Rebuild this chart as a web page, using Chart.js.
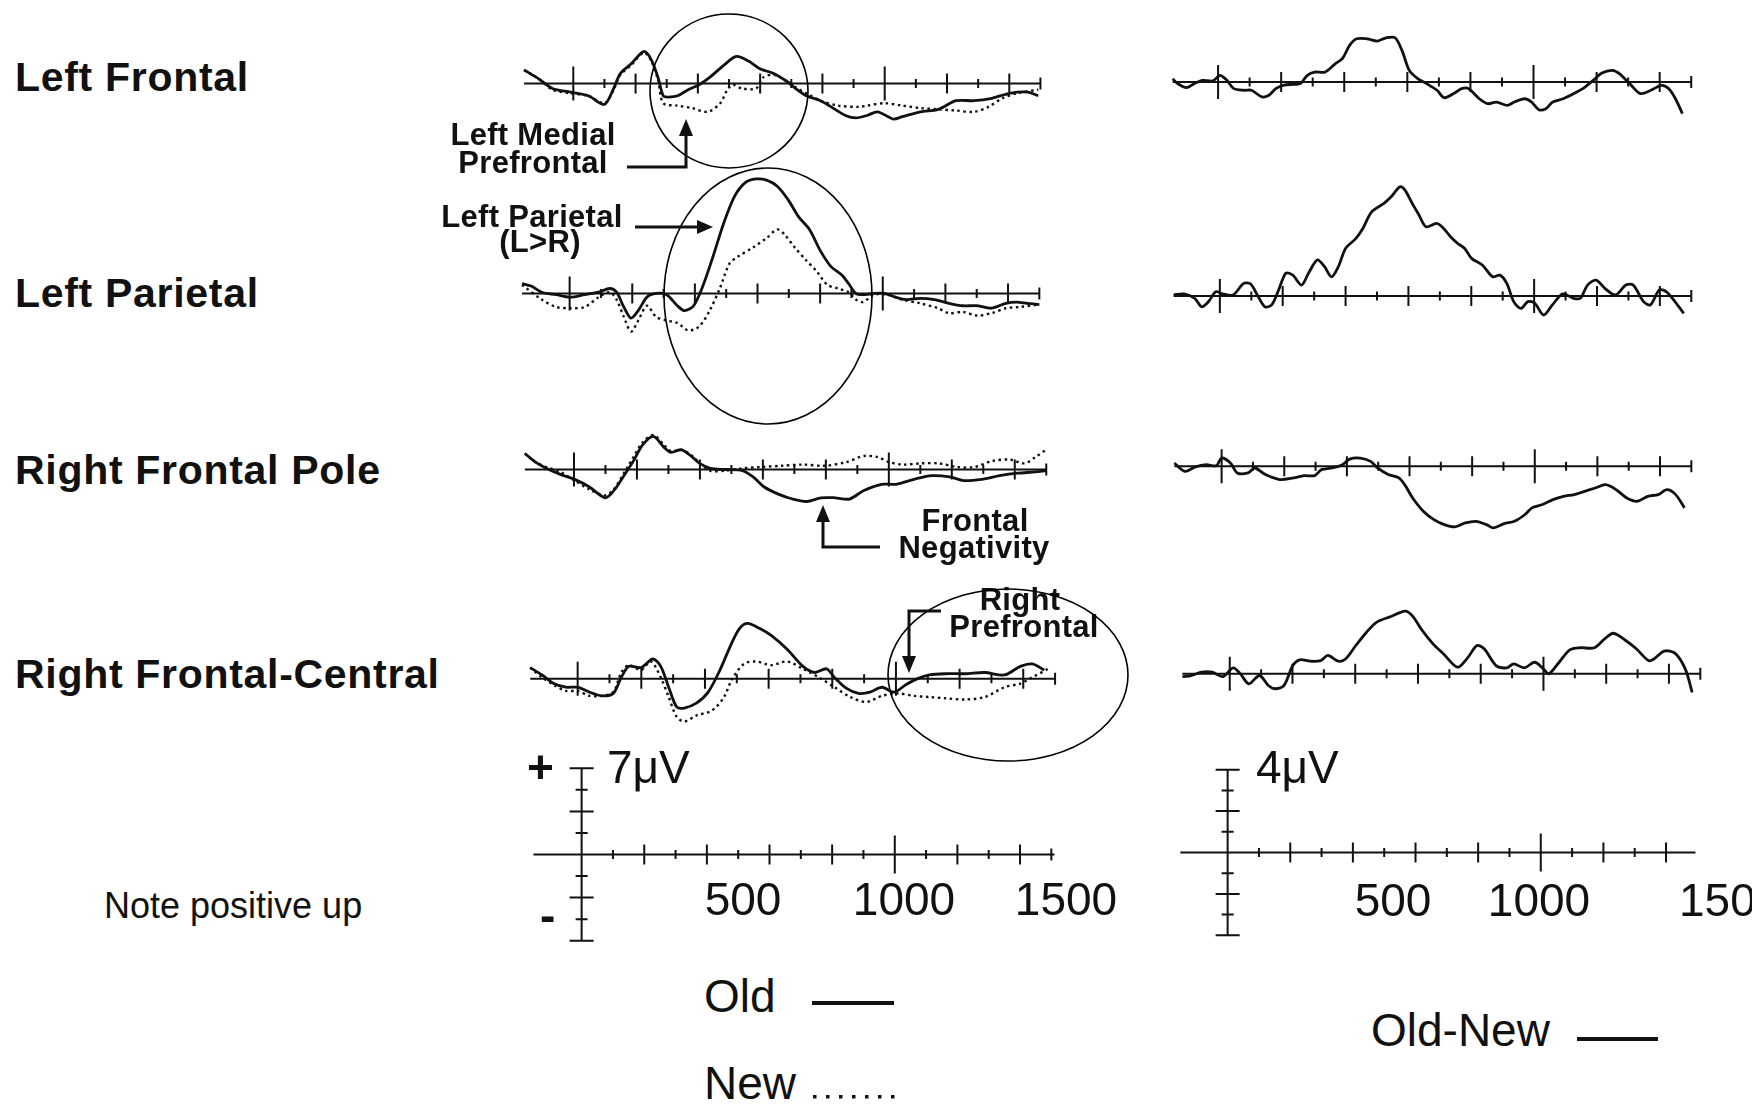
<!DOCTYPE html>
<html lang="en">
<head>
<meta charset="utf-8">
<title>ERP old/new effects</title>
<script src="https://cdn.jsdelivr.net/npm/chart.js@4.4.1/dist/chart.umd.min.js"></script>
<style>
  html, body { margin: 0; padding: 0; background: #fff; }
  #fig { position: relative; width: 1752px; height: 1105px; overflow: hidden; background: #fff;
         font-family: "Liberation Sans", Arial, Helvetica, sans-serif; color: #111; }
  #fig canvas { position: absolute; }
  #fig svg { position: absolute; left: 0; top: 0; }
  .txt { position: absolute; white-space: nowrap; line-height: 1; }
</style>
</head>
<body>
<div id="fig"></div>
<script>
// --- time axis (ms) and scale bar ticks (µV) ---
const msTicks = [0, 100, 200, 300, 400, 500, 600, 700, 800, 900, 1000, 1100, 1200, 1300, 1400, 1500];
const oldNewScaleTicks = [-7, -5.25, -3.5, -1.75, 0, 1.75, 3.5, 5.25, 7];
const diffScaleTicks = [-4, -3, -2, -1, 0, 1, 2, 3, 4];

// --- Left Frontal ---
const lfOldT = [-158,-112,-67,-9,48,100,128,151,186,226,249,272,289,306,335,369,404,438,484,524,564,599,645,690,713,748,794,828,874,908,943,977,1011,1029,1057,1115,1172,1229,1287,1344,1401,1459,1493];
const lfOldV = [1.1,0.4,-0.4,-0.7,-1.0,-1.7,-0.5,0.8,1.6,2.6,2.0,0.5,-1.0,-1.1,-1.0,-0.5,-0.1,0.5,1.5,2.2,1.8,1.2,0.8,0.1,-0.4,-1.0,-1.4,-1.9,-2.6,-2.8,-2.6,-2.3,-2.7,-2.9,-2.7,-2.3,-2.1,-1.4,-1.4,-1.2,-0.8,-0.7,-1.0];
const lfNewT = [-158,-112,-67,-9,48,100,128,151,186,226,249,272,289,335,381,432,472,495,513,541,587,610,645,690,713,748,794,851,920,943,1000,1057,1115,1172,1229,1287,1333,1378,1424,1493];
const lfNewV = [1.1,0.4,-0.5,-0.8,-1.0,-1.6,-0.6,0.7,1.5,2.5,1.9,0.3,-1.6,-1.8,-2.0,-2.3,-1.6,-0.5,-0.1,-0.4,-0.4,0.5,0.7,0.1,-0.3,-0.8,-1.4,-1.8,-1.9,-1.8,-1.6,-1.8,-2.0,-2.1,-2.2,-2.3,-1.9,-1.2,-0.8,-0.5];
const lfDiffT = [-144,-128,-100,-72,-50,-17,6,28,50,83,106,139,161,183,206,239,261,283,306,339,372,394,417,439,472,505,533,561,583,606,633,661,694,717,750,772,794,828,855,883,917,939,972,994,1017,1039,1061,1094,1128,1161,1189,1217,1250,1272,1305,1339,1372,1406,1428,1450,1472];
const lfDiffV = [0.16,-0.08,-0.27,-0.05,0.08,0.05,0.32,0.08,-0.32,-0.40,-0.40,-0.72,-0.64,-0.32,-0.16,-0.11,-0.08,0.32,0.48,0.48,0.89,1.13,1.77,2.09,2.09,1.98,2.14,2.14,1.53,0.56,0.16,-0.08,-0.40,-0.76,-0.53,-0.32,-0.32,-0.81,-1.05,-0.97,-1.13,-0.97,-0.81,-0.97,-1.34,-1.29,-0.97,-0.81,-0.56,-0.27,0.08,0.43,0.56,0.40,-0.08,-0.56,-0.40,-0.16,-0.32,-0.81,-1.53];

// --- Left Parietal ---
const lpOldT = [-152,-123,-89,-43,2,48,93,128,150,173,196,219,247,276,310,344,367,396,424,458,492,527,561,595,629,663,698,732,766,800,834,869,891,914,937,971,1005,1040,1074,1119,1165,1211,1256,1302,1347,1393,1427,1461,1500];
const lpOldV = [0.8,0.6,0.1,-0.1,-0.3,-0.1,0.1,0.4,0.1,-1.1,-2.0,-1.4,-0.3,0,-0.1,-1.0,-1.4,-1.0,0.5,3.0,5.7,7.9,9.0,9.3,9.2,8.7,7.6,6.2,5.2,3.5,2.2,1.5,0.8,0,-0.1,0,0,-0.3,-0.5,-0.4,-0.5,-0.8,-1.0,-1.0,-1.2,-0.8,-0.7,-0.8,-0.9];
const lpNewT = [-152,-89,-43,2,48,93,128,150,173,196,219,247,276,310,344,379,413,447,481,510,538,584,629,663,686,720,755,789,823,857,891,914,937,971,1017,1062,1119,1176,1211,1256,1302,1347,1393,1438,1500];
const lpNewV = [0.7,-0.5,-1.1,-1.2,-1.1,-0.3,0.1,-0.5,-1.9,-3.1,-2.2,-1.0,-1.9,-2.2,-2.4,-3.0,-2.7,-1.4,0.5,2.4,3.0,3.7,4.5,5.2,4.8,3.7,2.7,1.8,0.7,0.4,0.1,-0.5,-0.7,-0.1,-0.1,-0.5,-0.8,-1.2,-1.6,-1.5,-1.8,-1.6,-1.2,-1.1,-0.9];
const lpDiffT = [-147,-114,-80,-58,-36,-13,9,42,76,98,121,143,165,187,210,232,260,282,310,333,355,377,400,433,455,483,522,545,573,589,612,634,656,690,712,734,757,779,801,835,868,891,913,935,958,980,1002,1030,1058,1091,1125,1147,1170,1197,1225,1259,1292,1315,1348,1370,1398,1420,1448,1476];
const lpDiffV = [0.05,0.10,-0.11,-0.52,-0.27,0.21,0.10,0.05,0.61,0.58,0,-0.52,-0.43,0.29,1.10,1.01,0.53,1.10,1.74,1.42,0.93,1.42,2.30,2.79,3.27,4.07,4.48,4.80,5.28,5.12,4.48,3.91,3.35,3.51,3.27,2.87,2.54,2.30,1.82,1.50,0.93,1.01,0.61,-0.27,-0.60,-0.27,-0.35,-0.92,-0.43,0.10,-0.11,-0.11,0.53,0.77,0.37,0.05,0.53,0.53,-0.27,-0.43,0.29,0.21,-0.27,-0.84];

// --- Right Frontal Pole ---
const fpOldT = [-156,-122,-88,-43,2,48,99,127,161,189,218,252,286,308,342,376,399,433,479,535,569,603,649,694,739,785,830,875,921,977,1023,1080,1136,1193,1238,1295,1352,1409,1465,1499];
const fpOldV = [1.3,0.6,0.1,-0.4,-0.8,-1.4,-2.3,-1.7,-0.4,0.7,2.0,2.7,1.8,1.4,1.6,1.0,0.5,0.1,0,-0.1,-0.6,-1.4,-2.0,-2.4,-2.6,-2.3,-2.3,-2.4,-1.7,-1.2,-1.2,-0.8,-0.5,-0.6,-0.9,-0.8,-0.5,-0.3,-0.2,-0.1];
const fpNewT = [-156,-122,-88,-43,2,48,99,127,161,189,218,252,286,308,342,376,399,433,479,535,592,660,728,796,864,921,966,1000,1046,1102,1159,1216,1272,1329,1386,1431,1465,1499];
const fpNewV = [1.3,0.6,0.2,-0.2,-0.9,-1.6,-2.1,-1.6,-0.2,1.0,2.2,2.8,2.0,1.5,1.6,1.1,0.5,-0.1,-0.1,0.1,0.2,0.3,0.4,0.3,0.6,1.1,1.0,0.6,0.4,0.5,0.5,0.2,0.2,0.7,0.8,0.5,1.0,1.6];
const fpDiffT = [-151,-118,-84,-50,-17,0,28,50,84,106,140,185,230,263,297,319,353,386,409,442,476,498,532,566,588,610,644,678,711,745,778,812,846,868,902,935,969,991,1025,1058,1092,1126,1159,1193,1226,1260,1294,1327,1361,1394,1422,1450,1478];
const fpDiffV = [0.16,-0.24,-0.03,0.08,0.03,0.40,0.16,-0.32,-0.32,-0.08,-0.40,-0.64,-0.56,-0.45,-0.45,-0.16,-0.08,0.08,0.35,0.40,0.24,-0.08,-0.40,-0.56,-0.97,-1.53,-2.17,-2.58,-2.82,-2.93,-2.74,-2.66,-2.82,-2.98,-2.77,-2.66,-2.33,-2.01,-1.85,-1.61,-1.45,-1.37,-1.21,-1.05,-0.89,-1.13,-1.53,-1.69,-1.45,-1.37,-1.13,-1.37,-2.01];

// --- Right Frontal-Central ---
const fcOldT = [-149,-112,-75,-37,0,37,75,112,137,161,199,236,261,286,311,335,373,410,447,484,509,534,571,609,658,708,745,782,807,845,882,919,956,994,1031,1068,1105,1155,1217,1279,1341,1391,1428,1466];
const fcOldV = [0.9,0.3,-0.4,-0.7,-0.7,-1.1,-1.4,-1.2,0.1,1.0,0.9,1.6,1.0,-0.7,-2.3,-2.4,-2.0,-1.1,0.7,2.9,4.1,4.5,4.1,3.5,2.4,1.0,0.5,0.8,0.1,-0.8,-1.2,-1.1,-0.7,-1.1,-0.5,0,0.3,0.4,0.4,0.5,0.3,1.0,1.2,0.7];
const fcNewT = [-149,-112,-75,-37,0,37,75,112,137,161,199,230,261,286,311,335,373,422,460,484,522,559,609,658,708,758,807,857,907,956,1006,1056,1105,1155,1217,1279,1341,1391,1428,1478];
const fcNewV = [0.9,0.1,-0.5,-1.0,-1.0,-1.4,-1.4,-1.1,0.5,1.1,0.7,1.4,0.1,-1.5,-3.1,-3.5,-3.0,-2.6,-1.5,-0.1,1.2,1.4,1.1,1.4,0.8,0.1,-0.7,-1.5,-1.9,-1.4,-1.2,-1.4,-1.5,-1.6,-1.7,-1.5,-0.7,-0.4,0.1,0.8];
const fcDiffT = [-151,-123,-89,-56,-22,11,34,61,95,123,145,173,201,223,257,290,313,346,369,402,436,469,514,559,581,614,648,681,726,760,788,811,849,883,905,939,972,1000,1017,1050,1084,1117,1162,1195,1223,1262,1296,1335,1352,1385,1419,1452,1474];
const fcDiffV = [-0.13,-0.08,0.08,0.08,-0.13,0.29,0,-0.48,-0.08,-0.56,-0.72,-0.56,0.40,0.68,0.61,0.64,0.89,0.61,0.72,1.37,2.01,2.50,2.77,3.03,2.82,2.09,1.45,0.97,0.32,0.81,1.37,1.21,0.40,0.29,0.48,0.29,0.56,0.24,0,0.56,1.16,1.26,1.26,1.69,1.96,1.61,1.21,0.64,0.72,1.10,1.00,0.24,-0.89];

// --- layout ---
const fig = document.getElementById('fig');
const X_MIN = -200, X_MAX = 1550;   // every panel canvas spans this time window
const UV_LEFT = 12.29;              // px per µV, Old/New column (7 µV bar)
const UV_RIGHT = 20.7;              // px per µV, Old-New column (4 µV bar)

// x0 = pixel of 0 ms, k = px per 100 ms, base = pixel of 0 µV
const panels = [
  { lines: [[lfOldT, lfOldV, false], [lfNewT, lfNewV, true]], x0: 573.6, k: 31.14, base: 83.3, px: UV_LEFT, from: -158, yMin: -5, yMax: 5 },
  { lines: [[lpOldT, lpOldV, false], [lpNewT, lpNewV, true]], x0: 570.0, k: 31.32, base: 293.3, px: UV_LEFT, from: -152, yMin: -5, yMax: 11 },
  { lines: [[fpOldT, fpOldV, false], [fpNewT, fpNewV, true]], x0: 573.6, k: 31.5, base: 469.0, px: UV_LEFT, from: -156, yMin: -5, yMax: 5 },
  { lines: [[fcOldT, fcOldV, false], [fcNewT, fcNewV, true]], x0: 577.2, k: 31.83, base: 678.3, px: UV_LEFT, from: -149, yMin: -5, yMax: 6 },
  { lines: [[lfDiffT, lfDiffV, false]], x0: 1217.9, k: 31.56, base: 81.7, px: UV_RIGHT, from: -144, yMin: -3, yMax: 3 },
  { lines: [[lpDiffT, lpDiffV, false]], x0: 1220.3, k: 31.43, base: 296.0, px: UV_RIGHT, from: -147, yMin: -3, yMax: 6 },
  { lines: [[fpDiffT, fpDiffV, false]], x0: 1221.4, k: 31.32, base: 466.7, px: UV_RIGHT, from: -151, yMin: -4, yMax: 2 },
  { lines: [[fcDiffT, fcDiffV, false]], x0: 1230.2, k: 31.38, base: 673.3, px: UV_RIGHT, from: -151, yMin: -3, yMax: 4 },
  // calibration crosses
  { lines: [], x0: 581.6, k: 31.3, base: 854.3, px: UV_LEFT, from: -154, to: 1510, yMin: -8, yMax: 8, vTicks: oldNewScaleTicks, big: 19 },
  { lines: [], x0: 1228.0, k: 31.33, base: 852.7, px: UV_RIGHT, from: -151, to: 1494, yMin: -5, yMax: 5, vTicks: diffScaleTicks, big: 19 }
];

// baseline with 100 ms ticks (plus the vertical µV bar on the calibration crosses)
function axisPlugin(p) {
  return {
    id: 'erpAxis',
    beforeDatasetsDraw(chart) {
      const { ctx } = chart;
      const xs = chart.scales.x, ys = chart.scales.y;
      const y0 = ys.getPixelForValue(0);
      const to = p.to ?? 1500;
      ctx.save();
      ctx.strokeStyle = '#111';
      ctx.lineWidth = 2;
      ctx.beginPath();
      ctx.moveTo(xs.getPixelForValue(p.from), y0);
      ctx.lineTo(xs.getPixelForValue(to), y0);
      for (const t of msTicks) {
        if (t > to + 1) continue;
        if (p.vTicks && t === 0) continue;
        const px = xs.getPixelForValue(t);
        const len = t % 1000 === 0 ? (p.big ?? 17) : t === 1500 ? 6 : t % 200 === 0 ? 10 : 4.5;
        ctx.moveTo(px, y0 - len);
        ctx.lineTo(px, y0 + len);
      }
      if (p.vTicks) {
        const top = Math.max(...p.vTicks), bot = Math.min(...p.vTicks);
        const xp = xs.getPixelForValue(0);
        ctx.moveTo(xp, ys.getPixelForValue(top));
        ctx.lineTo(xp, ys.getPixelForValue(bot));
        for (const v of p.vTicks) {
          if (v === 0) continue;
          const half = (Math.abs(v) === top || Math.abs(v) === top / 2) ? 12 : 6;
          const py = ys.getPixelForValue(v);
          ctx.moveTo(xp - half, py);
          ctx.lineTo(xp + half, py);
        }
      }
      ctx.stroke();
      ctx.restore();
    }
  };
}

function drawPanel(p) {
  const cv = document.createElement('canvas');
  const w = Math.round((X_MAX - X_MIN) * p.k / 100);
  const h = Math.round((p.yMax - p.yMin) * p.px);
  cv.width = w;
  cv.height = h;
  cv.style.width = w + 'px';
  cv.style.height = h + 'px';
  cv.style.left = Math.round(p.x0 + X_MIN * p.k / 100) + 'px';
  cv.style.top = Math.round(p.base - p.yMax * p.px) + 'px';
  fig.appendChild(cv);

  new Chart(cv, {
    type: 'line',
    data: {
      datasets: p.lines.map(([t, v, dotted]) => ({
        data: t.map((ms, i) => ({ x: ms, y: v[i] })),
        borderColor: '#111',
        borderWidth: dotted ? 2.4 : 2.8,
        borderDash: dotted ? [2.5, 3.5] : [],
        pointRadius: 0,
        tension: 0.3,
        fill: false
      }))
    },
    options: {
      responsive: false,
      animation: false,
      devicePixelRatio: 1,
      events: [],
      layout: { padding: 0 },
      scales: {
        x: { type: 'linear', min: X_MIN, max: X_MAX, display: false },
        y: { type: 'linear', min: p.yMin, max: p.yMax, display: false }
      },
      plugins: { legend: { display: false }, tooltip: { enabled: false } }
    },
    plugins: [axisPlugin(p)]
  });
}

panels.forEach(drawPanel);

// --- text (y is the baseline) ---
const texts = [
  { text: 'Left Frontal', x: 15, y: 92, size: 41, bold: true, ls: 0.7 },
  { text: 'Left Parietal', x: 15, y: 308, size: 41, bold: true, ls: 0.7 },
  { text: 'Right Frontal Pole', x: 15, y: 485, size: 41, bold: true, ls: 0.7 },
  { text: 'Right Frontal-Central', x: 15, y: 689, size: 41, bold: true, ls: 0.7 },
  { text: 'Note positive up', x: 104, y: 918, size: 36 },
  { text: 'Left Medial', x: 533, y: 145, size: 31, bold: true, ls: 0.3, center: true },
  { text: 'Prefrontal', x: 533, y: 173, size: 31, bold: true, ls: 0.3, center: true },
  { text: 'Left Parietal', x: 532, y: 227, size: 31, bold: true, ls: 0.3, center: true },
  { text: '(L>R)', x: 540, y: 252, size: 31, bold: true, ls: 0.3, center: true },
  { text: 'Frontal', x: 975, y: 531, size: 31, bold: true, ls: 0.3, center: true },
  { text: 'Negativity', x: 974, y: 558, size: 31, bold: true, ls: 0.3, center: true },
  { text: 'Right', x: 1020, y: 610, size: 31, bold: true, ls: 0.3, center: true },
  { text: 'Prefrontal', x: 1024, y: 637, size: 31, bold: true, ls: 0.3, center: true },
  { text: '+', x: 527, y: 783, size: 46, bold: true },
  { text: '7μV', x: 607, y: 783, size: 46 },
  { text: '-', x: 540, y: 931, size: 46, bold: true },
  { text: '500', x: 743, y: 915, size: 46, center: true },
  { text: '1000', x: 904, y: 915, size: 46, center: true },
  { text: '1500', x: 1066, y: 915, size: 46, center: true },
  { text: '4μV', x: 1256, y: 783, size: 46 },
  { text: '500', x: 1393, y: 916, size: 46, center: true },
  { text: '1000', x: 1539, y: 916, size: 46, center: true },
  { text: '1500', x: 1679, y: 916, size: 46 },
  { text: 'Old', x: 704, y: 1012, size: 46 },
  { text: 'New', x: 704, y: 1099, size: 46 },
  { text: 'Old-New', x: 1371, y: 1046, size: 46 }
];

texts.forEach(t => {
  const d = document.createElement('div');
  d.className = 'txt';
  d.textContent = t.text;
  d.style.fontSize = t.size + 'px';
  d.style.fontWeight = t.bold ? 'bold' : 'normal';
  if (t.ls) d.style.letterSpacing = t.ls + 'px';
  d.style.left = t.x + 'px';
  d.style.top = (t.y - 0.847 * t.size) + 'px';
  if (t.center) d.style.transform = 'translateX(-50%)';
  fig.appendChild(d);
});

// --- circled regions, arrows and legend keys ---
const NS = 'http://www.w3.org/2000/svg';
const svg = document.createElementNS(NS, 'svg');
svg.setAttribute('width', 1752);
svg.setAttribute('height', 1105);
fig.appendChild(svg);

function el(name, attrs) {
  const e = document.createElementNS(NS, name);
  for (const k in attrs) e.setAttribute(k, attrs[k]);
  svg.appendChild(e);
  return e;
}

const ellipses = [
  { cx: 729, cy: 91, rx: 79, ry: 77 },
  { cx: 768, cy: 296, rx: 104, ry: 128 },
  { cx: 1008, cy: 675, rx: 120, ry: 86 }
];
ellipses.forEach(e => el('ellipse', { ...e, fill: 'none', stroke: '#000', 'stroke-width': 1.6 }));

const arrowLine = { fill: 'none', stroke: '#111', 'stroke-width': 3 };
// Left Medial Prefrontal: hook up into the frontal trace
el('polyline', { points: '627,167 686,167 686,132', ...arrowLine });
el('polygon', { points: '686,119 679,136 693,136', fill: '#111' });
// Left Parietal: points right at the parietal peak
el('polyline', { points: '635,227 700,227', ...arrowLine });
el('polygon', { points: '713,227 697,220 697,234', fill: '#111' });
// Frontal Negativity
el('polyline', { points: '880,547 823,547 823,518', ...arrowLine });
el('polygon', { points: '823,505 816,522 830,522', fill: '#111' });
// Right Prefrontal: hook down onto the 1000 ms tick
el('polyline', { points: '941,611 909,611 909,660', ...arrowLine });
el('polygon', { points: '909,673 902,656 916,656', fill: '#111' });

// legend keys
el('line', { x1: 812, y1: 1003, x2: 894, y2: 1003, stroke: '#111', 'stroke-width': 4 });
for (let i = 0; i < 7; i++) {
  el('rect', { x: 813 + i * 13, y: 1095, width: 3.5, height: 3.5, fill: '#111' });
}
el('line', { x1: 1577, y1: 1039, x2: 1658, y2: 1039, stroke: '#111', 'stroke-width': 4 });
</script>
</body>
</html>
